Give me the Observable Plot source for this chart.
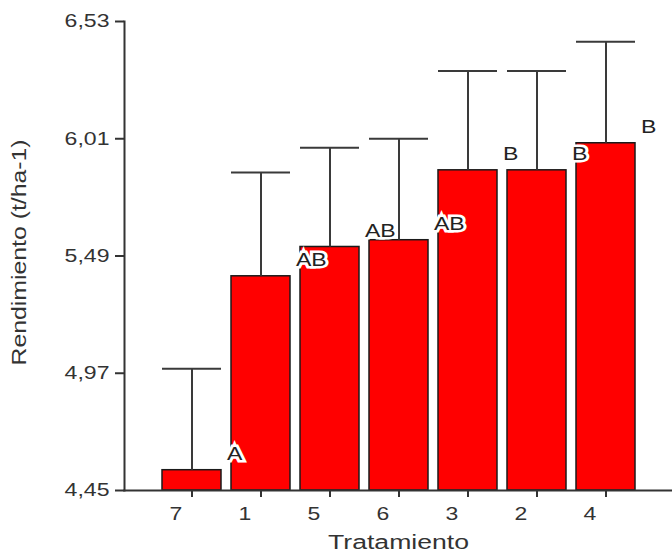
<!DOCTYPE html>
<html><head><meta charset="utf-8">
<script src="https://cdn.jsdelivr.net/npm/d3@7"></script>
<script src="https://cdn.jsdelivr.net/npm/@observablehq/plot@0.6"></script>
<style>body{margin:0;background:#fff}</style>
</head><body><div id="chart"></div>
<script>
const tratamientos = ["7", "1", "5", "6", "3", "2", "4"];
const medias = [4.54, 5.40, 5.53, 5.56, 5.87, 5.87, 5.99];
const superiores = [4.99, 5.86, 5.97, 6.01, 6.31, 6.31, 6.44];
const letras = ["A", "AB", "AB", "AB", "B", "B", "B"];
const yTicks = [4.45, 4.97, 5.49, 6.01, 6.53];
const xTitle = "Tratamiento";
const yTitle = "Rendimiento (t/ha-1)";

const data = tratamientos.map((t, i) => ({t, m: medias[i], u: superiores[i], l: letras[i]}));
const yMin = yTicks[0];
const fmt = d => d.toFixed(2).replace(".", ",");

const plot = Plot.plot({
  width: 672, height: 560,
  marginLeft: 124, marginRight: 0, marginTop: 21, marginBottom: 70,
  style: {fontFamily: "'Liberation Sans', Arial, sans-serif", fontSize: "18px", background: "#fff", color: "#333"},
  x: {domain: tratamientos, paddingInner: 0.15, paddingOuter: 0.54, align: 0.5, label: null},
  y: {domain: [yTicks[0], yTicks[yTicks.length - 1]], label: null},
  marks: [
    Plot.barY(data, {x: "t", y1: () => yMin, y2: "m", fill: "#ff0000", stroke: "#1a1a1a", strokeWidth: 1.5}),
    Plot.ruleX(data, {x: "t", y1: "m", y2: "u", stroke: "#3a3a3a", strokeWidth: 2}),
    Plot.tickY(data, {x: "t", y: "u", stroke: "#3a3a3a", strokeWidth: 2}),
    Plot.text(data, {x: "t", y: "m", text: "l", textAnchor: "start", dx: 35, dy: -16, fill: "#222", stroke: "white", strokeWidth: 5, strokeLinejoin: "miter", fontSize: 18}),
    Plot.axisY({ticks: yTicks, tickFormat: fmt, tickSize: 9, tickPadding: 6, stroke: "#333", strokeWidth: 2, fill: "#333", label: null}),
    Plot.axisX({tickSize: 7, fill: "none", stroke: "#333", strokeWidth: 2, label: null}),
    Plot.axisX({tickSize: 7, tickPadding: 10, stroke: "none", fill: "#333", dx: -16, label: null}),
    Plot.frame({anchor: "left", stroke: "#333", strokeWidth: 2}),
    Plot.frame({anchor: "bottom", stroke: "#333", strokeWidth: 2}),
    Plot.text([xTitle], {frameAnchor: "bottom", dy: 58, fill: "#333", fontSize: 20, className: "tx"}),
    Plot.text([yTitle], {frameAnchor: "bottom-left", rotate: -90, textAnchor: "start", dx: -99, dy: -125, fill: "#333", fontSize: 20, className: "ty"})
  ]
});
document.getElementById("chart").append(plot);
plot.querySelectorAll("text").forEach(t => {
  const L = t.getComputedTextLength();
  if (L > 0) {
    const f = t.closest(".tx") ? 1.33 : t.closest(".ty") ? 1.24 : 1.28;
    t.setAttribute("textLength", (L * f).toFixed(1));
    t.setAttribute("lengthAdjust", "spacingAndGlyphs");
  }
});
</script>
</body></html>
